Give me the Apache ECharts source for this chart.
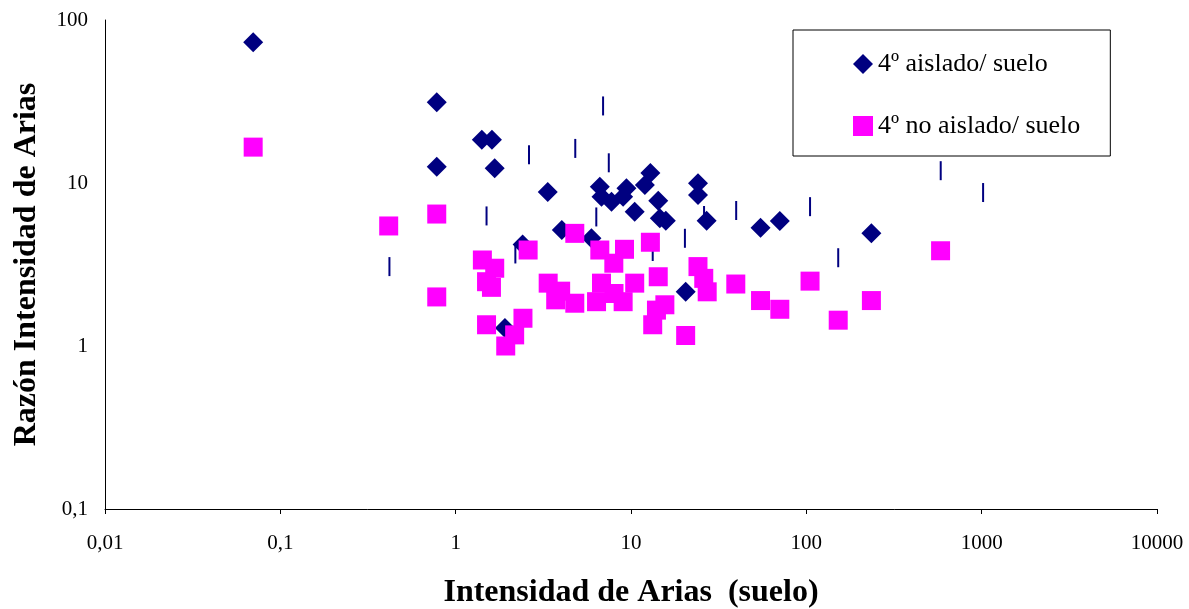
<!DOCTYPE html>
<html>
<head>
<meta charset="utf-8">
<script src="https://cdn.jsdelivr.net/npm/echarts@6/dist/echarts.min.js"></script>
<style>
  html, body { margin: 0; padding: 0; background: #fff; }
  #chart { width: 1189px; height: 609px; }
</style>
</head>
<body>
<div id="chart"></div>
<script>
// Axis ticks (log scale, decades)
const xTicks = [0.01, 0.1, 1, 10, 100, 1000, 10000];
const yTicks = [0.1, 1, 10, 100];

// 4º aislado / suelo
const aisladoX = [0.07, 0.78, 0.78, 1.41, 1.61, 1.67, 1.91, 2.41, 3.35, 4.03,
                  5.95, 6.64, 6.79, 7.74, 9.42, 9.02, 10.5, 12.9, 12.0, 14.3,
                  14.6, 15.8, 24.1, 24.1, 27.0, 20.5, 54.8, 70.6, 235];
const aisladoY = [73, 31.3, 12.6, 18.4, 18.4, 12.3, 1.29, 4.2, 8.8, 5.15,
                  4.58, 9.5, 8.24, 7.68, 9.28, 8.24, 6.67, 11.5, 9.72, 7.79,
                  6.07, 5.87, 9.96, 8.44, 5.87, 2.15, 5.32, 5.85, 4.91];

// 4º no aislado / suelo
const noAisladoX = [0.07, 0.415, 0.78, 0.78, 1.42, 1.67, 1.50, 1.60, 1.50, 2.42,
                    2.17, 1.93, 2.59, 4.78, 3.37, 3.97, 3.72, 4.78, 6.64, 7.98,
                    9.18, 12.9, 6.79, 6.36, 8.0, 9.02, 10.5, 14.3, 24.1, 26.0,
                    27.2, 39.6, 15.6, 13.97, 13.3, 20.5, 54.8, 70.6, 105, 152,
                    235, 583];
const noAisladoY = [16.6, 5.45, 6.45, 2.0, 3.37, 3.0, 2.48, 2.29, 1.35, 1.48,
                    1.17, 1.0, 3.88, 4.91, 2.43, 2.17, 1.92, 1.83, 3.88, 3.22,
                    3.92, 4.33, 2.43, 1.87, 2.1, 1.87, 2.43, 2.66, 3.07, 2.6,
                    2.15, 2.4, 1.79, 1.66, 1.35, 1.16, 1.90, 1.68, 2.5, 1.44,
                    1.90, 3.84];

// Third series (vertical dash markers, not listed in the legend)
const serie3X = [0.419, 1.50, 2.19, 2.62, 4.81, 6.34, 6.93, 7.47, 13.3, 20.3,
                 26.1, 39.8, 105, 152, 584, 1019];
const serie3Y = [3.07, 6.28, 3.67, 14.9, 16.3, 6.19, 29.7, 13.3, 3.8, 4.58,
                 6.32, 6.78, 7.16, 3.48, 11.9, 8.74];

const zip = (xs, ys) => xs.map((x, i) => [x, ys[i]]);
const fmt = v => String(Number(v.toPrecision(6))).replace('.', ',');

const FONT = '"Liberation Serif", "Times New Roman", serif';
const NAVY = '#000080';
const MAGENTA = '#FF00FF';

const chart = echarts.init(document.getElementById('chart'), null, { renderer: 'canvas' });
chart.setOption({
  animation: false,
  backgroundColor: '#fff',
  textStyle: { fontFamily: FONT },
  grid: { left: 105, right: 32, top: 20, bottom: 100, containLabel: false, outerBoundsMode: 'none' },
  legend: {
    data: ['4º aislado/ suelo', '4º no aislado/ suelo'],
    orient: 'vertical',
    left: 793,
    top: 30,
    padding: [21, 30, 17, 60],
    itemGap: 36,
    itemWidth: 20,
    itemHeight: 20,
    borderColor: '#000',
    borderWidth: 1,
    backgroundColor: '#fff',
    textStyle: { fontFamily: FONT, fontSize: 26, color: '#000' }
  },
  xAxis: {
    type: 'log',
    logBase: 10,
    min: xTicks[0],
    max: xTicks[xTicks.length - 1],
    name: 'Intensidad de Arias  (suelo)',
    nameLocation: 'middle',
    nameGap: 68,
    nameTextStyle: { fontFamily: FONT, fontSize: 32, fontWeight: 'bold', color: '#000' },
    axisLine: { lineStyle: { color: '#000', width: 1 } },
    axisTick: { show: true, length: 5, lineStyle: { color: '#000' } },
    minorTick: { show: false },
    splitLine: { show: false },
    axisLabel: { formatter: fmt, fontFamily: FONT, fontSize: 21, color: '#000', margin: 24 }
  },
  yAxis: {
    type: 'log',
    logBase: 10,
    min: yTicks[0],
    max: yTicks[yTicks.length - 1],
    name: 'Razón Intensidad de Arias',
    nameLocation: 'middle',
    nameGap: 62,
    nameRotate: 90,
    nameTextStyle: { fontFamily: FONT, fontSize: 32, fontWeight: 'bold', color: '#000' },
    axisLine: { show: true, lineStyle: { color: '#000', width: 1 } },
    axisTick: { show: false },
    splitLine: { show: false },
    axisLabel: { formatter: fmt, fontFamily: FONT, fontSize: 21, color: '#000', margin: 17 }
  },
  series: [
    {
      name: 'Serie3',
      type: 'scatter',
      data: zip(serie3X, serie3Y),
      symbol: 'rect',
      symbolSize: [2, 19],
      itemStyle: { color: NAVY, opacity: 1 },
      silent: true
    },
    {
      name: '4º aislado/ suelo',
      type: 'scatter',
      data: zip(aisladoX, aisladoY),
      symbol: 'diamond',
      symbolSize: 20,
      itemStyle: { color: NAVY, opacity: 1 }
    },
    {
      name: '4º no aislado/ suelo',
      type: 'scatter',
      data: zip(noAisladoX, noAisladoY),
      symbol: 'rect',
      symbolSize: 19,
      itemStyle: { color: MAGENTA, opacity: 1 }
    }
  ]
});
</script>
</body>
</html>
